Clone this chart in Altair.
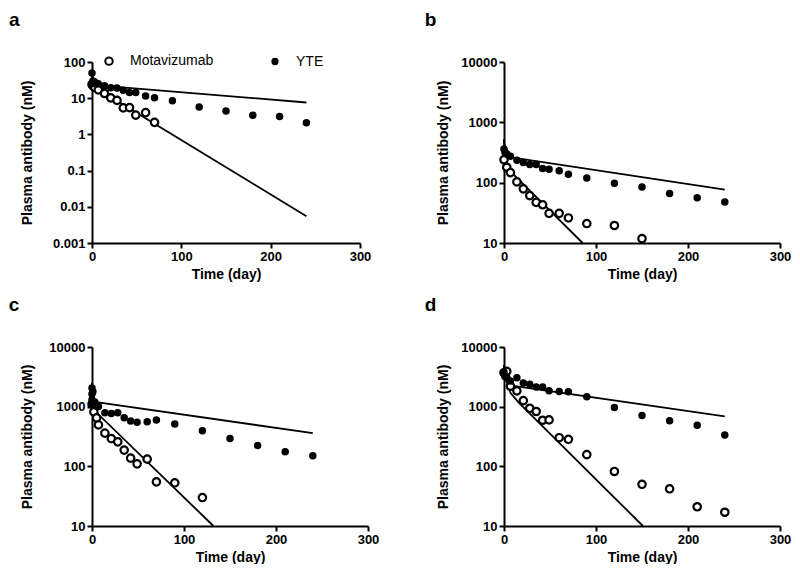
import altair as alt
import pandas as pd

FONT = "Liberation Sans"

# ---------------- data ----------------
# panel a
a_mota_t = [0, 1, 3, 7, 14, 21, 28, 35, 42, 49, 60, 70]
a_mota_v = [24, 22, 20, 17, 13.5, 10.2, 8.7, 5.4, 5.5, 3.4, 4.0, 2.15]
a_yte_t = [0, 0, 1, 3, 7, 14, 21, 28, 35, 42, 49, 60, 70, 90, 120, 150, 180, 210, 240]
a_yte_v = [50, 25, 30, 28, 25, 22, 19.5, 19, 16.5, 14.3, 14.3, 11.5, 10.3, 8.5, 5.7, 4.4, 3.4, 3.1, 2.1]
a_fit_yte_t = [0, 1, 3, 240]
a_fit_yte_v = [45, 28, 23, 7.6]
a_fit_mota_t = [0, 1, 3, 240]
a_fit_mota_v = [45, 25, 20, 0.0055]

# panel b
b_mota_t = [0, 3, 7, 14, 21, 28, 35, 42, 49, 60, 70, 90, 120, 150]
b_mota_v = [240, 180, 147, 103, 79, 61, 47, 43, 31, 31, 26, 21, 19.5, 11.8]
b_yte_t = [0, 1, 3, 7, 14, 21, 28, 35, 42, 49, 60, 70, 90, 120, 150, 180, 210, 240]
b_yte_v = [360, 320, 300, 275, 235, 215, 200, 200, 171, 167, 157, 138, 120, 98, 85, 66, 56, 48]
b_fit_yte_t = [0, 1, 3, 240]
b_fit_yte_v = [520, 330, 270, 77]
b_fit_mota_t = [0, 1, 4, 85.5]
b_fit_mota_v = [520, 260, 170, 10]

# panel c
c_mota_t = [0, 2, 5, 7, 14, 21, 28, 35, 42, 49, 60, 70, 90, 120]
c_mota_v = [1100, 820, 650, 494, 360, 292, 257, 187, 137, 110, 132, 55, 53, 30]
c_yte_t = [0, 0, 0, 0, 1, 3, 7, 14, 21, 28, 35, 42, 49, 60, 70, 90, 120, 150, 180, 210, 240]
c_yte_v = [2050, 1630, 1300, 1100, 1800, 1200, 1010, 790, 770, 790, 650, 575, 550, 560, 597, 513, 396, 292, 224, 175, 150]
c_fit_yte_t = [0, 1, 3, 240]
c_fit_yte_v = [2500, 1300, 1200, 360]
c_fit_mota_t = [0, 1, 3, 132]
c_fit_mota_v = [2500, 1100, 850, 10]

# panel d
d_mota_t = [0, 3, 7, 14, 21, 28, 35, 42, 49, 60, 70, 90, 120, 150, 180, 210, 240]
d_mota_v = [3700, 3900, 2200, 1840, 1260, 940, 830, 592, 600, 302, 284, 157, 82, 50, 42, 21, 17]
d_yte_t = [0, 1, 3, 7, 14, 21, 28, 35, 42, 49, 60, 70, 90, 120, 150, 180, 210, 240]
d_yte_v = [3800, 3200, 3100, 2700, 3050, 2500, 2370, 2140, 2140, 1840, 1800, 1770, 1470, 967, 714, 583, 489, 335]
d_fit_yte_t = [0, 1, 5, 240]
d_fit_yte_v = [5000, 3000, 2300, 690]
d_fit_mota_t = [0, 1, 3.6, 7, 16, 151]
d_fit_mota_v = [5000, 3200, 2600, 1700, 1170, 10]

series_names = ["Motavizumab", "YTE"]
x_ticks = [0, 100, 200, 300]
y_ticks_a = [0.001, 0.01, 0.1, 1, 10, 100]
y_ticks_bcd = [10, 100, 1000, 10000]


def table(mt, mv, yt, yv):
    return pd.DataFrame({
        "t": mt + yt,
        "v": mv + yv,
        "series": ["Motavizumab"] * len(mt) + ["YTE"] * len(yt),
    })


def panel(label, pdf, fdf, ydom, yvals, w, h, tpad, legend, toff):
    x = alt.X("t:Q", scale=alt.Scale(domain=[0, 300], nice=False),
              axis=alt.Axis(values=x_ticks, title="Time (day)", titlePadding=4))
    y = alt.Y("v:Q", scale=alt.Scale(type="log", domain=ydom, nice=False),
              axis=alt.Axis(values=yvals, format="~g", title="Plasma antibody (nM)",
                            titlePadding=tpad))
    lines = alt.Chart(fdf).mark_line(color="black", strokeWidth=1.8).encode(
        x=x, y=y, detail="series:N")
    if legend:
        leg = alt.Legend(title=None, orient="none", direction="horizontal",
                         legendX=10, legendY=-8, columnPadding=54, labelOffset=14,
                         symbolStrokeWidth=2, symbolType="circle", padding=0)
    else:
        leg = None
    points = alt.Chart(pdf).mark_point(shape="circle", strokeWidth=2.2,
                                       opacity=1, filled=False).encode(
        x=x, y=y,
        fill=alt.Fill("series:N", scale=alt.Scale(domain=series_names, range=["white", "black"]),
                      legend=leg),
        stroke=alt.Stroke("series:N", scale=alt.Scale(domain=series_names, range=["black", "black"]),
                          legend=leg),
        size=alt.Size("series:N", scale=alt.Scale(domain=series_names, range=[55, 28]),
                      legend=leg),
    )
    return alt.layer(lines, points).properties(
        width=w, height=h,
        title=alt.TitleParams(text=label, anchor="start", frame="bounds", fontSize=19,
                              fontWeight="bold", font=FONT, dx=-12, offset=toff, color="black"),
    )


pa = panel("a", table(a_mota_t, a_mota_v, a_yte_t, a_yte_v),
           table(a_fit_mota_t, a_fit_mota_v, a_fit_yte_t, a_fit_yte_v),
           [0.001, 100], y_ticks_a, 268, 181, 17.5, True, 26)
pb = panel("b", table(b_mota_t, b_mota_v, b_yte_t, b_yte_v),
           table(b_fit_mota_t, b_fit_mota_v, b_fit_yte_t, b_fit_yte_v),
           [10, 10000], y_ticks_bcd, 276, 181, 10, False, 26)
pc = panel("c", table(c_mota_t, c_mota_v, c_yte_t, c_yte_v),
           table(c_fit_mota_t, c_fit_mota_v, c_fit_yte_t, c_fit_yte_v),
           [10, 10000], y_ticks_bcd, 276, 179, 14, False, 26)
pd_ = panel("d", table(d_mota_t, d_mota_v, d_yte_t, d_yte_v),
            table(d_fit_mota_t, d_fit_mota_v, d_fit_yte_t, d_fit_yte_v),
            [10, 10000], y_ticks_bcd, 276, 179, 10, False, 26)

row1 = alt.hconcat(pa, pb, spacing=53)
row2 = alt.hconcat(pc, pd_, spacing=45)

chart = alt.vconcat(row1, row2, spacing=15).resolve_scale(
    x="independent", y="independent", fill="independent", size="independent",
    stroke="independent"
).configure(
    padding={"left": 0, "top": 3, "right": 0, "bottom": 0}, background="white"
).configure_view(stroke=None).configure_axis(
    grid=False, domainColor="black", domainWidth=2, tickColor="black", tickWidth=2,
    tickSize=5, labelFont=FONT, labelFontSize=13, labelFontWeight="bold", labelColor="black",
    titleFont=FONT, titleFontSize=14, titleFontWeight="bold", titleColor="black",
    labelFlush=False, labelOverlap=False, labelPadding=2,
).configure_legend(labelFont=FONT, labelFontSize=14, labelColor="black")

chart.save("out.html", embed_options={"renderer": "svg", "actions": False})
